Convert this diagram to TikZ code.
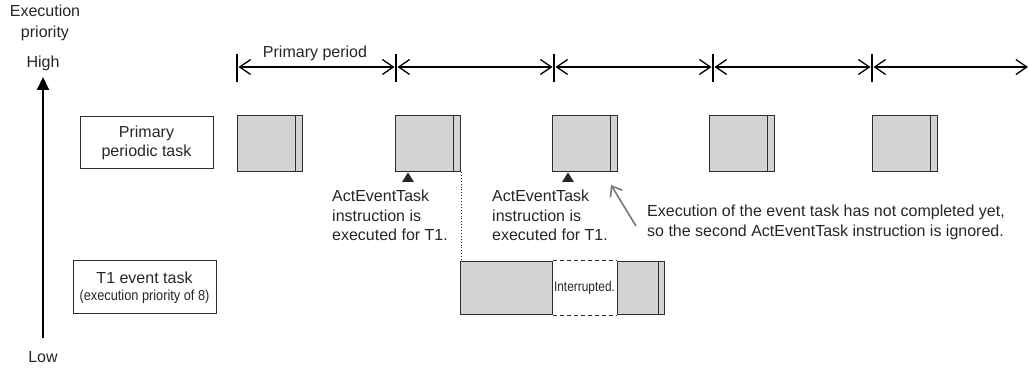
\documentclass[tikz,border=0pt]{standalone}
\usepackage{fontspec}
\setmainfont{Liberation Sans}
\usepackage{graphicx}
\usetikzlibrary{arrows.meta}
\definecolor{boxfill}{RGB}{210,211,213}
\definecolor{edge}{RGB}{45,45,45}
\definecolor{pointer}{RGB}{120,120,120}
\begin{document}
\begin{tikzpicture}[x=1pt,y=-1pt,
  every node/.style={font=\fontsize{16}{19.5}\selectfont, text=black!85},
  taskbox/.style={draw=edge, fill=boxfill, line width=1.1pt, anchor=north west, inner sep=0pt, minimum height=56pt, minimum width=65pt},
  evbox/.style={draw=edge, fill=boxfill, line width=1.1pt, anchor=north west, inner sep=0pt, minimum height=53pt},
  labelbox/.style={draw=edge, line width=1pt, inner sep=0pt, align=center},
  period/.style={line width=1.3pt, {Straight Barb[length=11pt,width=15pt]}-{Straight Barb[length=11pt,width=15pt]}, shorten <=1.5pt, shorten >=1.5pt},
  tick/.style={line width=1.1pt},
  note/.style={align=left, anchor=north west, inner sep=0pt},
  marker/.style={fill=black!85},
]
\useasboundingbox (0,0) rectangle (1029,371);

% priority axis
\node (exec) at (45,23) [align=center] {Execution\\[1pt]priority};
\node (high) at (43,63) {High};
\node (low) at (43,357) {Low};
\coordinate (axbot) at (43,338);
\coordinate (axtop) at (43,77);
\draw[line width=2pt, -{Triangle[length=13pt,width=12pt]}] (axbot) -- (axtop);

% label boxes
\node[labelbox, minimum width=133pt, minimum height=52pt] (ppt) at (146.5,143) {Primary\\periodic task};
\node[labelbox, minimum width=143pt, minimum height=53pt] (t1) at (144.5,287.5)
  {\raisebox{-2pt}{T1 event task}\\[0pt]\scalebox{0.88}[1]{\fontsize{14.5}{17}\selectfont(execution priority of 8)}};

% period arrows
\foreach \n/\x in {0/237,1/396,2/554,3/713,4/872}{
  \coordinate (t\n) at (\x,67);
  \draw[tick] (\x,54) -- (\x,82);
}
\coordinate (tend) at (1028,67);
\draw[period] (t0) -- (t1);
\draw[period] (t1) -- (t2);
\draw[period] (t2) -- (t3);
\draw[period] (t3) -- (t4);
\draw[period, shorten >=0pt] (t4) -- (tend);
\node (pp) at (315,53) {Primary period};

% primary periodic task boxes
\foreach \n/\x in {1/237,2/395,3/552,4/709,5/872}{
  \node[taskbox] (p\n) at (\x,115) {};
  \draw[edge, line width=1.1pt] ([xshift=-8pt]p\n.north east) -- ([xshift=-8pt]p\n.south east);
}

% event task
\node[evbox, minimum width=92pt] (e1) at (460,261) {};
\node[evbox, minimum width=47pt] (e2) at (617,261) {};
\draw[edge, line width=1.1pt] ([xshift=-7pt]e2.north east) -- ([xshift=-7pt]e2.south east);
\draw[edge, line width=1pt, dash pattern=on 4pt off 3pt] (e1.north east) -- (e2.north west);
\draw[edge, line width=1pt, dash pattern=on 4pt off 3pt] (e1.south east) -- (e2.south west);
\node (intr) at (584.5,287.5) {\scalebox{0.85}[1]{\fontsize{14}{17}\selectfont Interrupted.}};

% dotted trigger line
\draw[edge, line width=0.9pt, dotted] (p2.south east) -- (p2.south east |- e1.north);

% markers
\fill[marker] (402,182) -- (408,172.5) -- (414,182) -- cycle;
\fill[marker] (562,182) -- (568,172.5) -- (574,182) -- cycle;

% notes
\node[note] (n1) at (332,190) {ActEventTask\\instruction is\\executed for T1.};
\node[note] (n2) at (492,190) {ActEventTask\\instruction is\\executed for T1.};
\node[note] (n3) at (647,205) {Execution of the event task has not completed yet,\\so the second ActEventTask instruction is ignored.};

% pointer arrow
\coordinate (ptail) at (636,226);
\coordinate (phead) at (611,185);
\draw[pointer, line width=1.6pt, -{Straight Barb[length=9pt,width=14pt]}] (ptail) -- (phead);
\end{tikzpicture}
\end{document}
